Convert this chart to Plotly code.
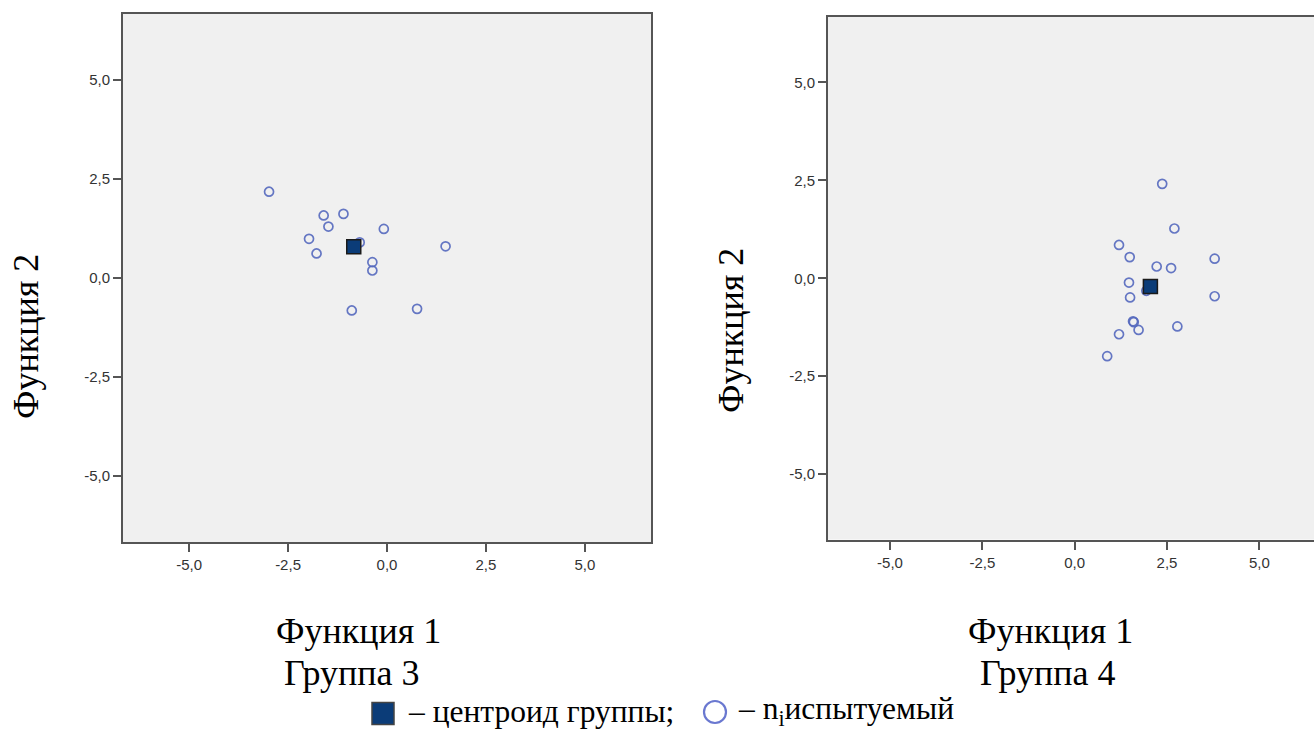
import plotly.graph_objects as go

# ---------------- data ----------------
tick_vals = [-5.0, -2.5, 0.0, 2.5, 5.0]
tick_text = ["-5,0", "-2,5", "0,0", "2,5", "5,0"]

# Group 3 (left panel)
g3_f1 = [-2.98, -1.60, -1.10, -1.48, -0.08, -1.97, -1.78, -0.69, 1.48, -0.37, -0.37, -0.89, 0.76]
g3_f2 = [2.18, 1.58, 1.62, 1.30, 1.24, 0.99, 0.62, 0.90, 0.80, 0.40, 0.19, -0.82, -0.78]
g3_centroid_f1 = [-0.84]
g3_centroid_f2 = [0.79]

# Group 4 (right panel)
g4_f1 = [2.37, 2.70, 1.20, 1.49, 3.79, 2.22, 2.61, 1.47, 1.94, 1.50, 3.79, 1.58, 1.60, 1.73, 2.78, 1.20, 0.88]
g4_f2 = [2.41, 1.27, 0.85, 0.54, 0.50, 0.30, 0.26, -0.11, -0.32, -0.49, -0.46, -1.10, -1.12, -1.32, -1.23, -1.43, -1.99]
g4_centroid_f1 = [2.05]
g4_centroid_f2 = [-0.21]

# ---------------- styles ----------------
W, H = 1314, 733
circle_col = "rgba(84,104,190,0.9)"
centroid_col = "#0B3C78"
axis_col = "#555555"
serif = "Liberation Serif, Times New Roman, serif"
sans = "Liberation Sans, Arial, sans-serif"
fs_title = 36
fs_leg = 31.5

def px(x):
    return x / W

def py(y):
    return 1 - y / H

fig = go.Figure()

def add_group(f1, f2, cf1, cf2, xa, ya):
    fig.add_trace(go.Scatter(
        x=f1, y=f2, mode="markers", xaxis=xa, yaxis=ya, showlegend=False,
        marker=dict(symbol="circle-open", size=9, color=circle_col, line=dict(width=1.7, color=circle_col)),
        hoverinfo="x+y"))
    fig.add_trace(go.Scatter(
        x=cf1, y=cf2, mode="markers", xaxis=xa, yaxis=ya, showlegend=False,
        marker=dict(symbol="square", size=14, color=centroid_col, line=dict(width=1.5, color="#1a1a1a")),
        hoverinfo="x+y"))

add_group(g3_f1, g3_f2, g3_centroid_f1, g3_centroid_f2, "x", "y")
add_group(g4_f1, g4_f2, g4_centroid_f1, g4_centroid_f2, "x2", "y2")

axis_common = dict(
    showgrid=False, zeroline=False, showline=True, linecolor=axis_col, linewidth=2,
    ticks="outside", ticklen=8, tickwidth=2, tickcolor=axis_col,
    tickvals=tick_vals, ticktext=tick_text,
    tickfont=dict(family=sans, size=15, color="#333333"),
)

fig.update_layout(
    width=W, height=H, margin=dict(l=0, r=0, t=0, b=0),
    paper_bgcolor="white", plot_bgcolor="#F0F0F0", showlegend=False,
    xaxis=dict(domain=[px(123), px(651)], range=[-6.67, 6.67], mirror=True, anchor="y", **axis_common),
    yaxis=dict(domain=[py(542), py(14)], range=[-6.67, 6.67], mirror=True, anchor="x", **axis_common),
    xaxis2=dict(domain=[px(828), 1.0], range=[-6.68, 6.48], mirror=True, anchor="y2", **axis_common),
    yaxis2=dict(domain=[py(539.5), py(17)], range=[-6.67, 6.67], mirror=False, anchor="x2", **axis_common),
)

def ann(text, x, y, angle=0, size=fs_title):
    fig.add_annotation(text=text, x=px(x), y=py(y), xref="paper", yref="paper",
                       xanchor="center", yanchor="middle", showarrow=False, textangle=angle,
                       font=dict(family=serif, size=size, color="black"))

ann("Функция 2", 26, 337, angle=-90)
ann("Функция 2", 731, 331, angle=-90)
ann("Функция 1", 358, 631)
ann("Группа 3", 352, 673)
ann("Функция 1", 1050, 631)
ann("Группа 4", 1048, 673)

# legend line (symbols + text)
fig.add_shape(type="rect", xref="paper", yref="paper",
              x0=px(372), x1=px(394), y0=py(724.5), y1=py(702.5),
              fillcolor=centroid_col, line=dict(color="#444444", width=1.5))
fig.add_shape(type="circle", xref="paper", yref="paper",
              x0=px(704), x1=px(726), y0=py(723), y1=py(701),
              fillcolor="rgba(0,0,0,0)", line=dict(color="#6a78d0", width=2.2))
fig.add_annotation(text="– центроид группы;", x=px(406), y=py(711), xref="paper", yref="paper",
                   xanchor="left", yanchor="middle", showarrow=False,
                   font=dict(family=serif, size=fs_leg, color="black"))
fig.add_annotation(text="– n<sub>i</sub>испытуемый", x=px(736), y=py(711), xref="paper", yref="paper",
                   xanchor="left", yanchor="middle", showarrow=False,
                   font=dict(family=serif, size=fs_leg, color="black"))

fig.write_html("out.html")
